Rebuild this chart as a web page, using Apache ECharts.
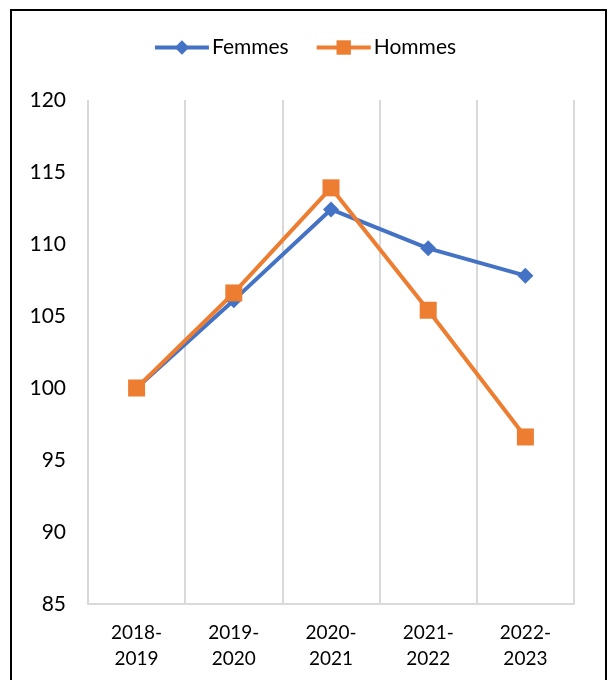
<!DOCTYPE html>
<html>
<head>
<meta charset="utf-8">
<script src="https://cdn.jsdelivr.net/npm/echarts@6/dist/echarts.min.js"></script>
<style>
html,body{margin:0;padding:0;background:#fff;}
#chart{width:609px;height:680px;}
</style>
</head>
<body>
<div id="chart"></div>
<script>
const categories = ["2018-\n2019", "2019-\n2020", "2020-\n2021", "2021-\n2022", "2022-\n2023"];
const femmes = [100, 106.1, 112.4, 109.7, 107.8];
const hommes = [100, 106.6, 113.9, 105.4, 96.6];
const seriesNames = ["Femmes", "Hommes"];

const chart = echarts.init(document.getElementById('chart'), null, {renderer: 'canvas'});
const font = 'Lato, "Open Sans", sans-serif';
chart.setOption({
  animation: false,
  backgroundColor: '#fff',
  graphic: [{
    type: 'rect', shape: {x: 11, y: 10, width: 595, height: 690},
    style: {fill: 'none', stroke: '#000', lineWidth: 2}, z: 100
  }],
  legend: {
    top: 32, left: 'center', itemWidth: 54, itemHeight: 18, itemGap: 26,
    lineStyle: {width: 4},
    textStyle: {fontSize: 21, color: '#000', fontFamily: font, padding: [0, 0, 0, -2]},
    data: seriesNames
  },
  grid: {left: 88, right: 35, top: 100, bottom: 76, containLabel: false},
  xAxis: {
    type: 'category', data: categories, boundaryGap: true,
    axisTick: {show: false},
    axisLine: {lineStyle: {color: '#d9d9d9', width: 2}},
    splitLine: {show: true, lineStyle: {color: '#d9d9d9', width: 2}},
    axisLabel: {fontSize: 19, color: '#000', fontFamily: font, lineHeight: 26, margin: 16, interval: 0}
  },
  yAxis: {
    type: 'value', min: 85, max: 120, interval: 5,
    axisLine: {show: false}, axisTick: {show: false}, splitLine: {show: false},
    axisLabel: {fontSize: 21, color: '#000', fontFamily: font, margin: 22}
  },
  series: [
    {
      name: seriesNames[0], type: 'line', data: femmes,
      symbol: 'diamond', symbolSize: 16,
      lineStyle: {color: '#4472C4', width: 4},
      itemStyle: {color: '#4472C4'}
    },
    {
      name: seriesNames[1], type: 'line', data: hommes,
      symbol: 'rect', symbolSize: 17,
      lineStyle: {color: '#ED7D31', width: 4},
      itemStyle: {color: '#ED7D31'}
    }
  ]
});
</script>
</body>
</html>
